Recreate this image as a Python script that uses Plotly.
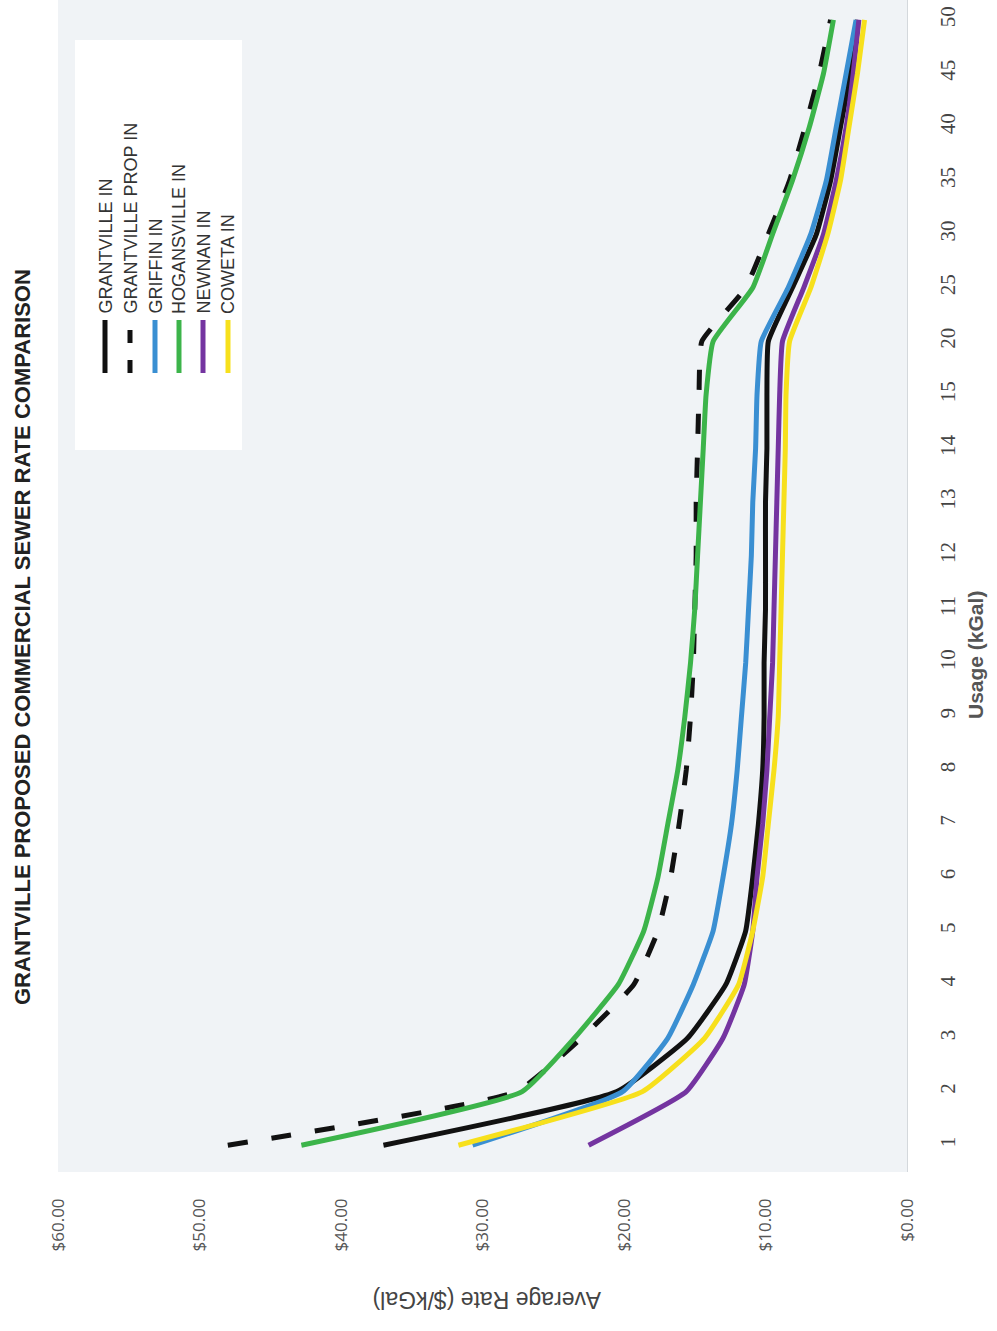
import plotly.graph_objects as go

# Usage categories (kGal) and average commercial sewer rate ($/kGal) per utility
usage = ['1', '2', '3', '4', '5', '6', '7', '8', '9', '10', '11', '12', '13', '14', '15',
         '20', '25', '30', '35', '40', '45', '50']

grantville_in = [37.0, 20.5, 15.5, 12.8, 11.4, 10.9, 10.5, 10.2, 10.1, 10.1, 10.0, 10.0,
                 10.0, 9.9, 9.9, 9.8, 8.1, 6.4, 5.4, 4.7, 4.0, 3.5]
grantville_prop_in = [48.0, 27.6, 23.0, 19.3, 17.6, 16.7, 16.1, 15.6, 15.3, 15.1, 15.0, 14.9,
                      14.9, 14.8, 14.7, 14.5, 11.4, 9.8, 8.3, 7.2, 6.2, 5.4]
griffin_in = [30.7, 20.1, 16.9, 15.1, 13.7, 13.0, 12.4, 12.0, 11.7, 11.4, 11.2, 11.0,
              10.9, 10.7, 10.6, 10.3, 8.4, 6.8, 5.7, 5.0, 4.3, 3.6]
hogansville_in = [42.8, 27.2, 23.5, 20.4, 18.6, 17.6, 16.9, 16.2, 15.7, 15.3, 15.0, 14.8,
                  14.6, 14.4, 14.2, 13.7, 10.9, 9.5, 8.1, 6.9, 5.9, 5.2]
newnan_in = [22.5, 15.6, 13.0, 11.5, 10.9, 10.6, 10.2, 9.9, 9.7, 9.5, 9.4, 9.3,
             9.2, 9.1, 9.0, 8.8, 7.3, 5.9, 5.0, 4.3, 3.8, 3.4]
coweta_in = [31.7, 18.7, 14.3, 11.9, 10.9, 10.2, 9.8, 9.4, 9.1, 9.0, 8.9, 8.8,
             8.7, 8.6, 8.55, 8.3, 6.8, 5.6, 4.7, 4.1, 3.5, 3.0]

series_names = ['GRANTVILLE IN', 'GRANTVILLE PROP IN', 'GRIFFIN IN', 'HOGANSVILLE IN',
                'NEWNAN IN', 'COWETA IN']
series_values = [grantville_in, grantville_prop_in, griffin_in, hogansville_in,
                 newnan_in, coweta_in]
series_colors = ['#111111', '#111111', '#3a8fd2', '#3cb44a', '#7434a0', '#f7e01c']
series_dash = ['solid', '20px,24px', 'solid', 'solid', 'solid', 'solid']

W, H = 997, 1331
# plot area in pixels (page is turned on its side: rate runs right-to-left, usage bottom-to-top)
L, R, T, B = 58, 907, 0, 1172


def px(x):
    return (x - L) / (R - L)


def py(y):
    return 1 - (y - T) / (B - T)


fig = go.Figure()

for name, vals, col, dash in zip(series_names, series_values, series_colors, series_dash):
    fig.add_trace(go.Scatter(
        x=vals, y=usage, mode='lines', name=name,
        line=dict(color=col, width=5, dash=dash, shape='spline', smoothing=0.4),
        showlegend=False,
    ))

fig.update_layout(
    width=W, height=H,
    margin=dict(l=L, r=W - R, t=T, b=H - B, pad=0),
    paper_bgcolor='white',
    plot_bgcolor='#f0f3f6',
    xaxis=dict(
        range=[60, 0], dtick=10, tickprefix='$', tickformat='.2f',
        tickangle=-90, showgrid=False, zeroline=False,
        tickfont=dict(family='Open Sans', size=17, color='#555555'),
        ticklabelstandoff=22,
    ),
    yaxis=dict(
        type='category', range=[-0.5, 21.37], side='right',
        tickangle=-90, showgrid=False, zeroline=False,
        showline=True, linecolor='#d4d8dc', linewidth=1,
        tickfont=dict(family='Liberation Serif', size=21, color='#444444'),
        ticklabelstandoff=22,
    ),
)

# chart title, axis titles
fig.add_annotation(text='<b>GRANTVILLE PROPOSED COMMERCIAL SEWER RATE COMPARISON</b>',
                   xref='paper', yref='paper', x=px(22), y=py(637), textangle=-90,
                   showarrow=False, xanchor='center', yanchor='middle',
                   font=dict(family='Liberation Sans', size=22, color='#222222'))
fig.add_annotation(text='<b>Usage (kGal)</b>', xref='paper', yref='paper',
                   x=px(975), y=py(655), textangle=-90, showarrow=False,
                   xanchor='center', yanchor='middle',
                   font=dict(family='Liberation Sans', size=21, color='#555555'))
fig.add_annotation(text='Average Rate ($/kGal)', xref='paper', yref='paper',
                   x=px(487), y=py(1300), textangle=180, showarrow=False,
                   xanchor='center', yanchor='middle',
                   font=dict(family='Liberation Sans', size=23, color='#444444'))

# legend drawn on its side inside a white box
fig.add_shape(type='rect', xref='paper', yref='paper',
              x0=px(75), x1=px(242), y0=py(450), y1=py(40),
              fillcolor='white', line=dict(width=0), layer='below')
leg_x = [105, 130, 155, 179, 203, 228]
for name, col, dash, x in zip(series_names, series_colors, series_dash, leg_x):
    fig.add_shape(type='line', xref='paper', yref='paper',
                  x0=px(x), x1=px(x), y0=py(373), y1=py(320),
                  line=dict(color=col, width=5,
                            dash='13px,17px' if dash != 'solid' else 'solid'))
    fig.add_annotation(text=name, xref='paper', yref='paper', x=px(x), y=py(316),
                       textangle=-90, showarrow=False, xanchor='center', yanchor='bottom',
                       font=dict(family='Liberation Sans', size=18, color='#333333'))

fig.write_html('out.html')
